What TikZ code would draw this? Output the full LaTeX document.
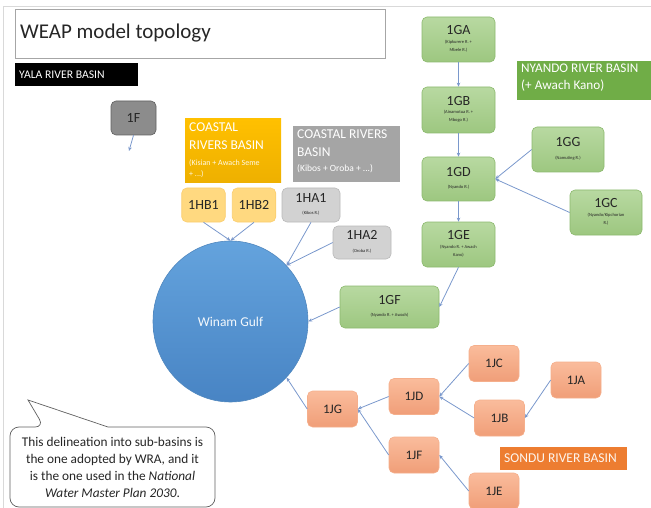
\documentclass[tikz,border=0pt]{standalone}
\usepackage{fontspec}
\setmainfont{Carlito}
\usetikzlibrary{arrows.meta,shapes.geometric}
\definecolor{grnT}{RGB}{184,217,161}
\definecolor{grnB}{RGB}{157,199,128}
\definecolor{grnD}{RGB}{140,185,110}
\definecolor{orgT}{RGB}{250,188,156}
\definecolor{orgB}{RGB}{240,158,120}
\definecolor{orgD}{RGB}{245,175,140}
\definecolor{yelL}{RGB}{255,217,128}
\definecolor{yelD}{RGB}{250,205,110}
\definecolor{gryL}{RGB}{210,210,210}
\definecolor{gryD}{RGB}{185,185,185}
\definecolor{gryF}{RGB}{140,140,140}
\definecolor{gryFD}{RGB}{95,95,95}
\definecolor{yelBig}{RGB}{255,192,0}
\definecolor{yelBigB}{RGB}{238,176,0}
\definecolor{gryBig}{RGB}{165,165,165}
\definecolor{nyando}{RGB}{112,173,71}
\definecolor{sondu}{RGB}{237,125,49}
\definecolor{gulfT}{RGB}{100,163,221}
\definecolor{gulfB}{RGB}{72,132,196}
\definecolor{gulfD}{RGB}{80,135,190}
\definecolor{lnk}{RGB}{122,152,204}
\definecolor{txt}{RGB}{38,38,38}
\newcommand{\subl}[1]{{\fontsize{4.5}{8}\selectfont\begin{tabular}{@{}c@{}}#1\end{tabular}}}
\newcommand{\labf}{\fontsize{14}{15}\selectfont}
\tikzset{
  nbase/.style={rectangle, rounded corners=5pt, inner sep=1pt, align=center, text=txt, font=\labf, line width=0.6pt},
  gbox/.style={nbase, draw=grnD, top color=grnT, bottom color=grnB},
  obox/.style={nbase, draw=orgD, top color=orgT, bottom color=orgB, minimum width=50, minimum height=36, font=\fontsize{13}{15}\selectfont},
  ybox/.style={nbase, draw=yelD, fill=yelL, minimum width=43.5, minimum height=34},
  hbox/.style={nbase, draw=gryD, fill=gryL, minimum height=34},
  link/.style={draw=lnk, line width=0.8pt, -{Stealth[length=4pt,width=3.5pt]}},
}
\begin{document}
\begin{tikzpicture}[x=1pt,y=-1pt]
\useasboundingbox (0,0) rectangle (651,508);
% page frame
\draw[gray!30, line width=1pt] (3,508) -- (3,7) -- (651,7);
% title
\draw[gray!70, line width=0.8pt, fill=white] (15,9) rectangle (385,58);
\node[anchor=west, inner sep=0pt, text=txt, font=\fontsize{21}{23}\selectfont] (title) at (20,33.5) {WEAP model topology};
% Yala
\fill[black] (15,63) rectangle (138,86);
\node[anchor=west, inner sep=0pt, text=white, font=\fontsize{11.7}{12}\selectfont] (yala) at (19,74.5) {YALA RIVER BASIN};
% coastal labels
\shade[top color=yelBig, bottom color=yelBigB] (185,119) rectangle (281,183);
\node[anchor=north west, inner sep=0pt, align=left, text=white, font=\fontsize{13.5}{18}\selectfont] (coastY) at (189,123) {COASTAL\\RIVERS BASIN};
\node[anchor=north west, inner sep=0pt, align=left, text=white!90!yelBig, font=\fontsize{8}{11}\selectfont] (coastYs) at (189,159) {(Kisian + Awach Seme\\+ ...)};
\fill[gryBig] (293,126) rectangle (400,182);
\node[anchor=north west, inner sep=0pt, align=left, text=white, font=\fontsize{13.5}{18}\selectfont] (coastG) at (297,130) {COASTAL RIVERS\\BASIN};
\node[anchor=north west, inner sep=0pt, text=white, font=\fontsize{9.5}{11}\selectfont] (coastGs) at (297,164) {(Kibos + Oroba + ...)};
% Nyando label
\fill[nyando] (517,61) rectangle (655,100);
\node[anchor=north west, inner sep=0pt, align=left, text=white, font=\fontsize{13.2}{17}\selectfont] (nyl) at (521,64) {NYANDO RIVER BASIN\\(+ Awach Kano)};
% Sondu label
\fill[sondu] (500,447) rectangle (627,470);
\node[anchor=west, inner sep=0pt, text=white!92!sondu, font=\fontsize{13.5}{14}\selectfont] (sol) at (504,458.5) {SONDU RIVER BASIN};
% Winam Gulf
\node[ellipse, draw=gulfD, line width=0.6pt, top color=gulfT, bottom color=gulfB, minimum width=155, minimum height=161, inner sep=0pt, text=white!92!gulfT, font=\fontsize{13.5}{15}\selectfont] (gulf) at (230.5,321.5) {Winam Gulf};
% 1F
\node[nbase, draw=gryFD, fill=gryF, minimum width=45, minimum height=34] (f) at (133.5,118) {1F};
\coordinate (fend) at (129,151);
% coastal nodes
\node[ybox] (hb1) at (203.5,205) {1HB1};
\node[ybox] (hb2) at (254,205) {1HB2};
\node[hbox, minimum width=58] (ha1) at (311,205) {1HA1\\[-3pt]\subl{(Kibos R.)}};
\node[hbox, minimum width=58, minimum height=33] (ha2) at (362,242.5) {1HA2\\[-3pt]\subl{(Oroba R.)}};
% Nyando nodes
\node[gbox, minimum width=73, minimum height=45] (ga) at (458.5,39.5) {1GA\\[-3pt]\subl{(Kipkurere R. +\\Mbele R.)}};
\node[gbox, minimum width=73, minimum height=46] (gb) at (458.5,110) {1GB\\[-3pt]\subl{(Ainamotua R. +\\Mbogo R.)}};
\node[gbox, minimum width=73, minimum height=44] (gd) at (458.5,179) {1GD\\[-3pt]\subl{(Nyando R.)}};
\node[gbox, minimum width=73, minimum height=45] (ge) at (458.5,244.5) {1GE\\[-3pt]\subl{(Nyando R. + Awach\\Kano)}};
\node[gbox, minimum width=72, minimum height=45] (gg) at (568,149.5) {1GG\\[-3pt]\subl{(Namuting R.)}};
\node[gbox, minimum width=72, minimum height=45] (gc) at (606,212.5) {1GC\\[-3pt]\subl{(Nyando/Kipchorian\\R.)}};
\node[gbox, minimum width=99, minimum height=42] (gf) at (389.5,307) {1GF\\[-3pt]\subl{(Nyando R. + Awach)}};
% Sondu nodes
\node[obox] (jg) at (332.5,409) {1JG};
\node[obox] (jd) at (414,396.5) {1JD};
\node[obox] (jc) at (494,363.5) {1JC};
\node[obox] (ja) at (576,380) {1JA};
\node[obox] (jb) at (499.5,418) {1JB};
\node[obox] (jf) at (414,455) {1JF};
\node[obox] (je) at (494,491) {1JE};
% callout
\draw[gray!75!black, line width=0.7pt, fill=white] (44,427) -- (28,400) -- (108,427) [rounded corners=9pt] -- (215,427) -- (215,507) -- (10,507) -- (10,427) -- cycle;
\node[align=center, inner sep=0pt, text=txt, font=\fontsize{13.3}{17}\selectfont] (note) at (112.5,467.5) {This delineation into sub-basins is\\the one adopted by WRA, and it\\is the one used in the \textit{National}\\\textit{Water Master Plan 2030}.};
% links
\draw[link] (f.south) -- (fend);
\draw[link] (hb1.south) -- (gulf.north);
\draw[link] (hb2.south) -- (gulf.north);
\draw[link] (ha1.south) -- (gulf.45);
\draw[link] (ha2.west) -- (gulf.45);
\draw[link] (gf.west) -- (gulf.east);
\draw[link] (ge.south) -- (gf.east);
\draw[link] (ga.south) -- (gb.north);
\draw[link] (gb.south) -- (gd.north);
\draw[link] (gd.south) -- (ge.north);
\draw[link] (gg.west) -- (gd.east);
\draw[link] (gc.west) -- (gd.east);
\draw[link] (jg.west) -- (gulf.-45);
\draw[link] (jd.west) -- (jg.east);
\draw[link] (jf.west) -- (jg.east);
\draw[link] (jc.west) -- (jd.east);
\draw[link] (jb.west) -- (jd.east);
\draw[link] (ja.west) -- (jb.east);
\draw[link] (je.west) -- (jf.east);
\end{tikzpicture}
\end{document}
